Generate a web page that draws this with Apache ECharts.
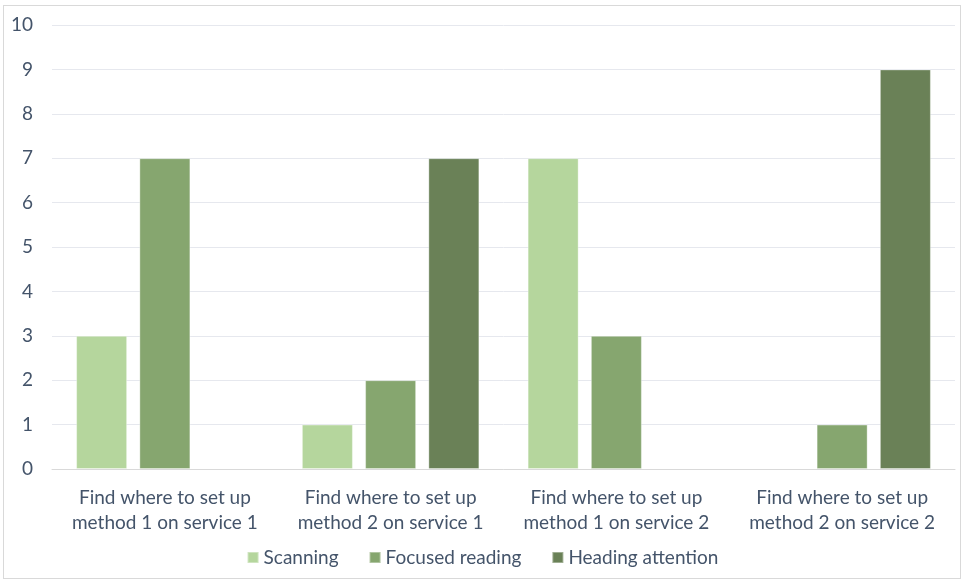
<!DOCTYPE html>
<html><head><meta charset="utf-8">
<script src="https://cdn.jsdelivr.net/npm/echarts@6/dist/echarts.min.js"></script>
<style>
html,body{margin:0;padding:0;background:#fff;}
#wrap{position:absolute;left:3px;top:5px;width:958px;height:574px;border:1px solid #d9d9d9;box-sizing:border-box;}
#c{position:absolute;left:0;top:0;width:965px;height:582px;}
</style></head>
<body>
<div id="wrap"></div>
<div id="c"></div>
<script>
const categories = [
  "Find where to set up\nmethod 1 on service 1",
  "Find where to set up\nmethod 2 on service 1",
  "Find where to set up\nmethod 1 on service 2",
  "Find where to set up\nmethod 2 on service 2"
];
const scanning = [3, 1, 7, 0];
const focusedReading = [7, 2, 3, 1];
const headingAttention = [0, 7, 0, 9];
const seriesNames = ["Scanning", "Focused reading", "Heading attention"];
const colors = ["#b5d69d", "#86a66f", "#6a8157"];

const chart = echarts.init(document.getElementById('c'));
const txt = '#44546a';
const font = 'Lato, "Open Sans", sans-serif';
function mk(name, data, color) {
  return {
    name: name, type: 'bar', data: data.map(v => v === 0 ? null : v),
    barWidth: 51, barGap: '24%',
    itemStyle: { color: color, borderColor: 'rgba(255,255,255,0.35)', borderWidth: 1 }
  };
}
chart.setOption({
  animation: false,
  color: colors,
  grid: { left: 52, right: 10, top: 25, bottom: 113, containLabel: false },
  legend: {
    bottom: 10, left: 'center', itemWidth: 11, itemHeight: 11, itemGap: 30, icon: 'rect',
    textStyle: { color: txt, fontSize: 19, fontFamily: font },
    data: seriesNames
  },
  xAxis: {
    type: 'category', data: categories,
    axisLine: { lineStyle: { color: '#d9d9d9' } },
    axisTick: { show: false },
    axisLabel: { color: txt, fontSize: 19, fontFamily: font, lineHeight: 25, margin: 16, interval: 0 }
  },
  yAxis: {
    type: 'value', min: 0, max: 10, interval: 1,
    axisLine: { show: false }, axisTick: { show: false },
    splitLine: { lineStyle: { color: '#e6e8ee' } },
    axisLabel: { color: txt, fontSize: 19, fontFamily: font, margin: 19 }
  },
  series: [
    mk(seriesNames[0], scanning, colors[0]),
    mk(seriesNames[1], focusedReading, colors[1]),
    mk(seriesNames[2], headingAttention, colors[2])
  ]
});
</script>
</body></html>
